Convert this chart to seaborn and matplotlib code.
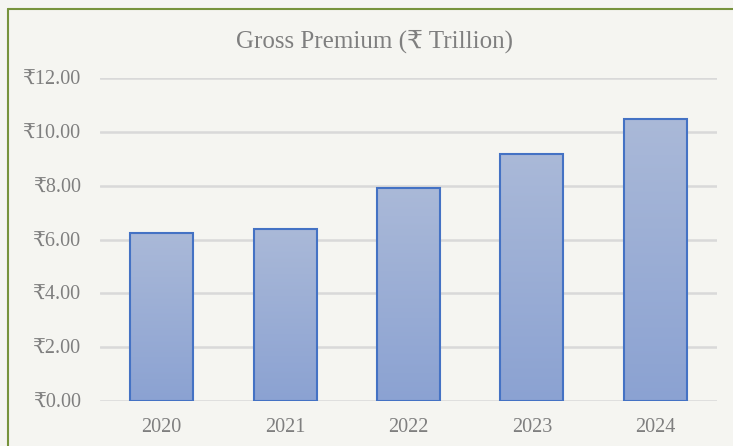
import numpy as np
import pandas as pd
import matplotlib
matplotlib.use("Agg")
import matplotlib.pyplot as plt
import seaborn as sns
from matplotlib.colors import LinearSegmentedColormap

years = ["2020", "2021", "2022", "2023", "2024"]
premium = [6.24, 6.39, 7.91, 9.18, 10.48]
yticks = [0, 2, 4, 6, 8, 10, 12]
title = "Gross Premium (₹ Trillion)"

sns.set_theme(style="white")
fam = ["Liberation Serif", "DejaVu Serif", "DejaVu Sans"]
plt.rcParams["font.family"] = fam

BG = "#f5f5f1"
TXT = "#7f7f7f"
fig = plt.figure(figsize=(7.33, 4.46), dpi=100, facecolor=BG)
ax = fig.add_axes([100/733, 1-401/446, 617/733, (401-78)/446])
ax.set_facecolor(BG)

df = pd.DataFrame({"year": years, "premium": premium})
sns.barplot(data=df, x="year", y="premium", ax=ax, width=0.51,
            color="#9aaed6", edgecolor="#4472c4", linewidth=1.5, zorder=3)

cmap = LinearSegmentedColormap.from_list("g", ["#8ba2d2", "#aab9d8"])
grad = np.linspace(0, 1, 256).reshape(-1, 1)
for p in ax.patches:
    x0, y0 = p.get_x(), p.get_y()
    w, h = p.get_width(), p.get_height()
    im = ax.imshow(grad, cmap=cmap, origin="lower", aspect="auto",
                   extent=[x0, x0 + w, y0, y0 + h], zorder=3.5)
    im.set_clip_path(p)
    p.set_facecolor("none")
    p.set_zorder(4)

ax.set_xlim(-0.5, 4.5)
ax.set_ylim(0, 12)
ax.set_yticks(yticks)
ax.set_yticklabels([f"₹{v:.2f}" for v in yticks])
ax.yaxis.grid(True, color="#d9d9d9", linewidth=1.8, zorder=0)
ax.set_axisbelow(True)
ax.set_xlabel("")
ax.set_ylabel("")
for s in ax.spines.values():
    s.set_visible(False)
ax.tick_params(axis="y", length=0, pad=14, labelsize=14.5, labelcolor=TXT)
ax.tick_params(axis="x", length=0, pad=12, labelsize=14.5, labelcolor=TXT)

fig.text(375/733, 1-41/446, title, ha="center", va="center",
         fontsize=18, color=TXT, family=fam)

# outer border (top and left)
fig.add_artist(plt.Line2D([8/733, 1], [1-9/446, 1-9/446], transform=fig.transFigure,
                          color="#77933c", linewidth=1.5))
fig.add_artist(plt.Line2D([8/733, 8/733], [0, 1-9/446], transform=fig.transFigure,
                          color="#77933c", linewidth=1.5))

fig.savefig("out.png", dpi=100, facecolor=BG)
